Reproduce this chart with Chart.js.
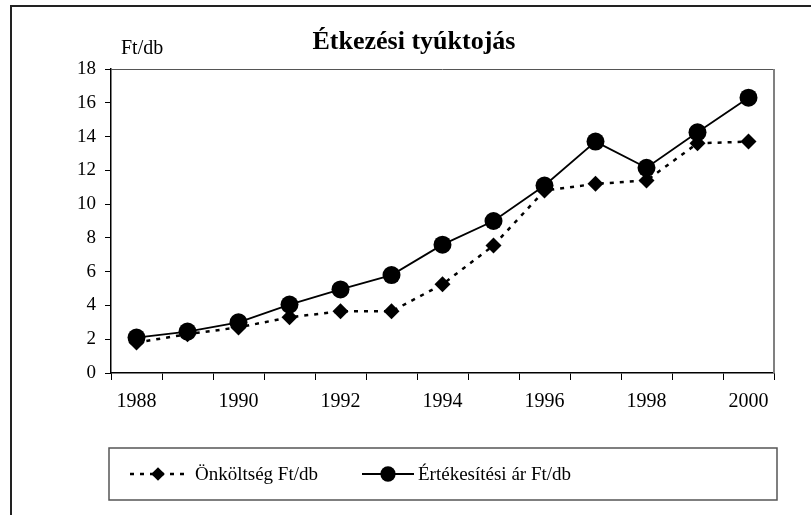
<!DOCTYPE html>
<html>
<head>
<meta charset="utf-8">
<script src="https://cdn.jsdelivr.net/npm/chart.js@4/dist/chart.umd.min.js"></script>
<style>
  html, body { margin: 0; padding: 0; background: #fff; }
  #wrap { width: 811px; height: 515px; position: relative; }
</style>
</head>
<body>
<div id="wrap"><canvas id="eggChart" width="811" height="515"></canvas></div>
<script>
// data
const years = ['1988', '1989', '1990', '1991', '1992', '1993', '1994', '1995', '1996', '1997', '1998', '1999', '2000'];
const onkoltseg = [1.8, 2.3, 2.7, 3.3, 3.65, 3.65, 5.25, 7.55, 10.8, 11.2, 11.4, 13.6, 13.7];
const ertekesitesi = [2.1, 2.45, 3.0, 4.05, 4.95, 5.8, 7.6, 9.0, 11.1, 13.7, 12.15, 14.25, 16.3];
const yTicks = { min: 0, max: 18, step: 2 };

const chartTitle = 'Étkezési tyúktojás';
const yUnit = 'Ft/db';
const seriesNames = ['Önköltség Ft/db', 'Értékesítési ár Ft/db'];

const serif = '"Liberation Serif", "Times New Roman", serif';

// frame, title, unit label and boxed legend
const decorPlugin = {
    id: 'decor',
    beforeDatasetsDraw(chart) {
        const { ctx, chartArea: a } = chart;
        ctx.save();
        // plot area border (top + right)
        ctx.strokeStyle = '#555';
        ctx.lineWidth = 1;
        ctx.beginPath();
        ctx.moveTo(a.left, a.top + 0.5);
        ctx.lineTo(a.right, a.top + 0.5);
        ctx.stroke();
        ctx.strokeStyle = '#808080';
        ctx.lineWidth = 2;
        ctx.beginPath();
        ctx.moveTo(a.right, a.top);
        ctx.lineTo(a.right, a.bottom);
        ctx.stroke();
        ctx.restore();
    },
    afterDraw(chart) {
        const ctx = chart.ctx;
        ctx.save();
        // outer frame
        ctx.strokeStyle = '#222';
        ctx.lineWidth = 2;
        ctx.beginPath();
        ctx.moveTo(11, 515);
        ctx.lineTo(11, 6);
        ctx.lineTo(811, 6);
        ctx.stroke();

        ctx.fillStyle = '#000';
        ctx.font = 'bold 26px ' + serif;
        ctx.textAlign = 'center';
        ctx.textBaseline = 'alphabetic';
        ctx.fillText(chartTitle, 414, 49);

        ctx.font = '20px ' + serif;
        ctx.textAlign = 'left';
        ctx.fillText(yUnit, 121, 54);

        // legend box
        ctx.strokeStyle = '#555';
        ctx.lineWidth = 1.5;
        ctx.strokeRect(109, 448, 668, 52);

        const cy = 474;
        const items = [
            { x0: 130, x1: 186, tx: 195 },
            { x0: 362, x1: 414, tx: 418 }
        ];
        chart.data.datasets.forEach((ds, i) => {
            const it = items[i];
            ctx.save();
            ctx.strokeStyle = ds.borderColor;
            ctx.lineWidth = ds.borderWidth;
            ctx.setLineDash(ds.borderDash || []);
            ctx.beginPath();
            ctx.moveTo(it.x0, cy);
            ctx.lineTo(it.x1, cy);
            ctx.stroke();
            ctx.restore();
            Chart.helpers.drawPoint(ctx, {
                pointStyle: ds.pointStyle,
                radius: ds.pointRadius * 0.85,
                borderWidth: 0
            }, (it.x0 + it.x1) / 2, cy);
            ctx.fillStyle = '#000';
            ctx.font = '19px ' + serif;
            ctx.textBaseline = 'middle';
            ctx.textAlign = 'left';
            ctx.fillText(ds.label, it.tx, cy + 1);
        });
        ctx.restore();
    }
};

function createChart() {
    const ctx = document.getElementById('eggChart').getContext('2d');
    ctx.fillStyle = '#000';
    new Chart(ctx, {
        type: 'line',
        data: {
            labels: years,
            datasets: [{
                    label: seriesNames[0],
                    data: onkoltseg,
                    borderColor: '#000',
                    backgroundColor: '#000',
                    borderWidth: 2.5,
                    borderDash: [4, 6],
                    pointStyle: 'rectRot',
                    pointRadius: 8,
                    pointBorderWidth: 0,
                    tension: 0,
                    order: 1
                },
                {
                    label: seriesNames[1],
                    data: ertekesitesi,
                    borderColor: '#000',
                    backgroundColor: '#000',
                    borderWidth: 1.8,
                    pointStyle: 'circle',
                    pointRadius: 9,
                    pointBorderWidth: 0,
                    tension: 0,
                    order: 0
                }
            ]
        },
        options: {
            responsive: false,
            animation: false,
            events: [],
            layout: { padding: { left: 0, right: 37, top: 69, bottom: 0 } },
            plugins: {
                legend: { display: false },
                tooltip: { enabled: false },
                title: { display: false }
            },
            scales: {
                x: {
                    offset: true,
                    grid: { offset: true, drawOnChartArea: false, drawTicks: true, tickLength: 7, color: '#000' },
                    border: { display: true, color: '#000', width: 1.5 },
                    ticks: {
                        autoSkip: false,
                        maxRotation: 0,
                        padding: 10,
                        color: '#000',
                        font: { family: serif, size: 20 },
                        callback: function (val, idx) {
                            return idx % 2 === 0 ? this.getLabelForValue(val) : '';
                        }
                    },
                    afterFit: (s) => { s.height = 142; }
                },
                y: {
                    min: yTicks.min,
                    max: yTicks.max,
                    grid: { drawOnChartArea: false, drawTicks: true, tickLength: 6, color: '#000' },
                    border: { display: true, color: '#000', width: 1.5 },
                    ticks: {
                        stepSize: yTicks.step,
                        padding: 9,
                        color: '#000',
                        font: { family: serif, size: 19 }
                    },
                    afterFit: (s) => { s.width = 111; }
                }
            }
        },
        plugins: [decorPlugin]
    });
}
createChart();
</script>
</body>
</html>
